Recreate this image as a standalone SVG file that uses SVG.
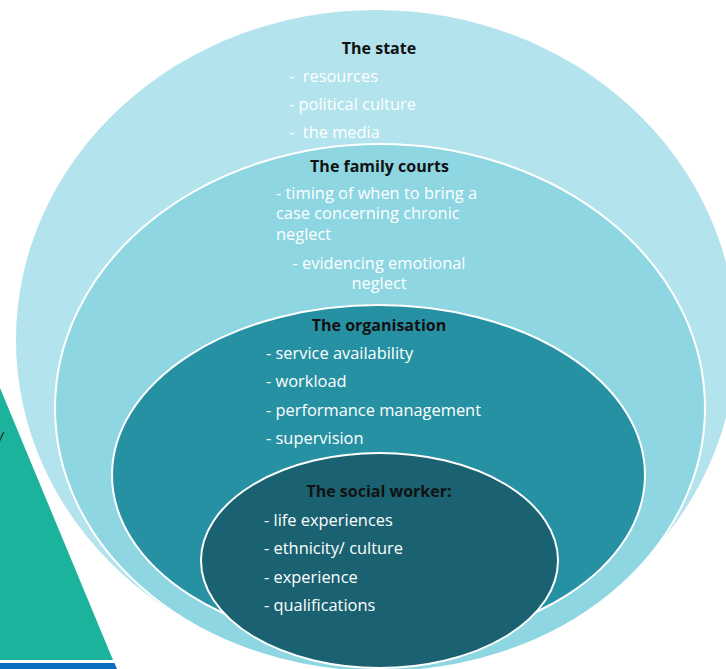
<svg xmlns="http://www.w3.org/2000/svg" width="726" height="669" viewBox="0 0 726 669">
<style>
.h{font-family:"Open Sans","Liberation Sans",sans-serif;font-weight:bold;font-size:16px;fill:#111;text-anchor:middle}
.t{font-family:"Open Sans","Liberation Sans",sans-serif;font-size:16.4px;fill:#fff}
.c{text-anchor:middle}
.ring{stroke:#fff;stroke-width:2}
</style>
<rect width="726" height="669" fill="#fff"/>
<g id="side">
<polygon points="0,388 113,660 0,660" fill="#1CB39C"/>
<polygon points="0,663 114.5,663 117,669 0,669" fill="#0A6EC1"/>
<text x="3" y="444" font-family="Liberation Sans,sans-serif" font-size="16" font-style="italic" fill="#222" text-anchor="end">/</text>
</g>
<g id="state">
<ellipse cx="376" cy="340" rx="360" ry="330" fill="#B3E3EC"/>
<text class="h" x="379" y="54">The state</text>
<text class="t" x="289" y="82" xml:space="preserve">-  resources</text>
<text class="t" x="289" y="110">- political culture</text>
<text class="t" x="289" y="138" xml:space="preserve">-  the media</text>
</g>
<g id="family-courts">
<ellipse class="ring" cx="380" cy="408" rx="325" ry="264" fill="#8DD6E2"/>
<text class="h" x="379.5" y="172">The family courts</text>
<text class="t" x="276" y="199">- timing of when to bring a</text>
<text class="t" x="276" y="219">case concerning chronic</text>
<text class="t" x="276" y="240">neglect</text>
<text class="t c" x="379" y="269">- evidencing emotional</text>
<text class="t c" x="379" y="289">neglect</text>
</g>
<g id="organisation">
<ellipse class="ring" cx="378.5" cy="475" rx="266.5" ry="170" fill="#2791A4"/>
<text class="h" x="379" y="331">The organisation</text>
<text class="t" x="266" y="359">- service availability</text>
<text class="t" x="266" y="387">- workload</text>
<text class="t" x="266" y="416">- performance management</text>
<text class="t" x="266" y="444">- supervision</text>
</g>
<g id="social-worker">
<ellipse class="ring" cx="379.5" cy="560.5" rx="178.5" ry="107.5" fill="#1A6271"/>
<text class="h" x="379" y="497">The social worker:</text>
<text class="t" x="264" y="526">- life experiences</text>
<text class="t" x="264" y="554">- ethnicity/ culture</text>
<text class="t" x="264" y="583">- experience</text>
<text class="t" x="264" y="611">- qualifications</text>
</g>
<g id="connectors"/>
</svg>
